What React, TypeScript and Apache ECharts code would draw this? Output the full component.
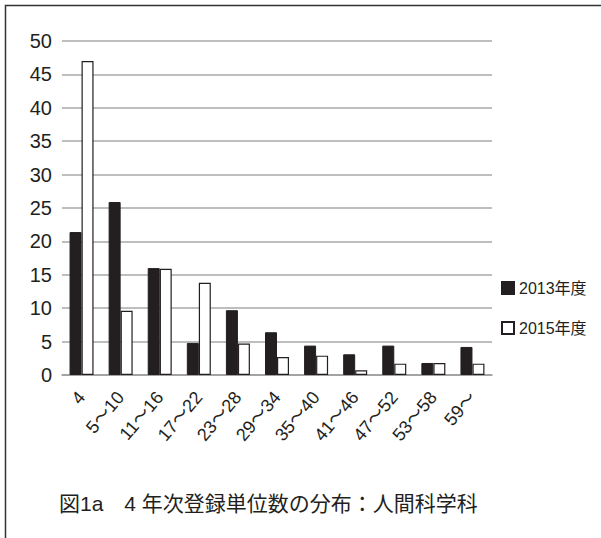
import React, { useEffect, useRef } from "react";
import * as echarts from "echarts";

// Registered-credit ranges (4th year)
const categories = ["4", "5〜10", "11〜16", "17〜22", "23〜28", "29〜34", "35〜40", "41〜46", "47〜52", "53〜58", "59〜"];
const values2013 = [21.4, 25.9, 16.0, 4.8, 9.7, 6.4, 4.4, 3.1, 4.4, 1.8, 4.2];
const values2015 = [47.0, 9.6, 15.9, 13.8, 4.7, 2.7, 2.9, 0.7, 1.7, 1.8, 1.7];
const yTicks = { min: 0, max: 50, interval: 5 };

const INK = "#231f20";
// Latin glyphs from Liberation Sans, kana/kanji and 〜 from Noto Sans CJK
const FONT = "'Liberation Sans', Arial, 'Noto Sans CJK JP', sans-serif";

export default function App() {
  const ref = useRef<HTMLDivElement>(null);

  useEffect(() => {
    if (!ref.current) return;
    const chart = echarts.init(ref.current, null, { renderer: "svg" });
    const legendText = { fontFamily: FONT, fontSize: 16, color: INK };
    chart.setOption({
      animation: false,
      backgroundColor: "#ffffff",
      title: {
        text: "図1a　4 年次登録単位数の分布：人間科学科",
        left: 54,
        top: 488,
        textStyle: { fontFamily: FONT, fontSize: 21, fontWeight: "normal", color: INK },
      },
      legend: [
        {
          data: ["2013年度"],
          left: 496,
          top: 275,
          itemWidth: 12,
          itemHeight: 12,
          icon: "rect",
          textStyle: legendText,
        },
        {
          data: ["2015年度"],
          left: 496,
          top: 315,
          itemWidth: 12,
          itemHeight: 12,
          icon: "rect",
          textStyle: legendText,
        },
      ],
      grid: { left: 62, right: 109, top: 41, bottom: 163, containLabel: false },
      xAxis: {
        type: "category",
        data: categories,
        axisLine: { show: true, lineStyle: { color: "#9a9a9a", width: 1.5 } },
        axisTick: { show: false },
        axisLabel: {
          rotate: 50,
          margin: 19,
          fontFamily: FONT,
          fontSize: 18,
          color: INK,
        },
      },
      yAxis: {
        type: "value",
        min: yTicks.min,
        max: yTicks.max,
        interval: yTicks.interval,
        axisLine: { show: false },
        axisTick: { show: false },
        splitLine: { lineStyle: { color: "#a8a8a8", width: 1.5 } },
        axisLabel: { fontFamily: FONT, fontSize: 20, color: INK, margin: 10 },
      },
      series: [
        {
          name: "2013年度",
          type: "bar",
          data: values2013,
          barWidth: 12,
          barGap: "0%",
          itemStyle: { color: INK, borderColor: INK, borderWidth: 1 },
        },
        {
          name: "2015年度",
          type: "bar",
          data: values2015,
          barWidth: 12,
          barGap: "0%",
          itemStyle: { color: "#ffffff", borderColor: INK, borderWidth: 1.2 },
        },
      ],
      graphic: [
        {
          type: "rect",
          shape: { x: 5.5, y: 5.5, width: 800, height: 800 },
          style: { fill: "none", stroke: "#333333", lineWidth: 1.5 },
          silent: true,
        },
      ],
    });
    return () => chart.dispose();
  }, []);

  return (
    <div
      ref={ref}
      style={{ position: "fixed", left: 0, top: 0, width: 601, height: 538 }}
    />
  );
}
